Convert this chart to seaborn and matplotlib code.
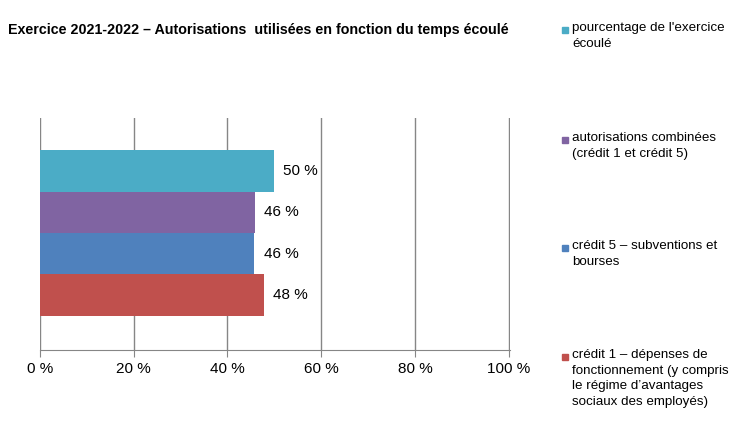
import matplotlib
matplotlib.use("Agg")
import matplotlib.pyplot as plt
import seaborn as sns
import pandas as pd
from matplotlib.patches import Rectangle

plt.rcParams["font.family"] = "Liberation Sans"

series = ["crédit 1 – dépenses de\nfonctionnement (y compris\nle régime d’avantages\nsociaux des employés)",
          "crédit 5 – subventions et\nbourses",
          "autorisations combinées\n(crédit 1 et crédit 5)",
          "pourcentage de l'exercice\nécoulé"]
values = [47.7, 45.7, 45.9, 49.9]
labels = ["48 %", "46 %", "46 %", "50 %"]
colors = ["#c0504d", "#4f81bd", "#8064a2", "#4bacc6"]
ticks = [0, 20, 40, 60, 80, 100]
tick_labels = ["0 %", "20 %", "40 %", "60 %", "80 %", "100 %"]

df = pd.DataFrame({"s": series, "v": values, "pos": [0, 1, 2, 3]})

fig = plt.figure(figsize=(7.5, 4.34), dpi=100)
ax = fig.add_axes([40/750, 84/434, 470/750, 232/434])
for i, row in df.iterrows():
    ax.barh(row["pos"], row["v"], height=1.0, color=colors[i], edgecolor="none")
    ax.text(row["v"] + 2, row["pos"], labels[i], va="center", ha="left", fontsize=11)
ax.set_xlim(0, 100.3)
ax.set_ylim(-0.5 - 0.83, 3.5 + 0.78)
ax.set_xticks(ticks)
ax.set_xticklabels(tick_labels, fontsize=11)
ax.set_yticks([])
ax.xaxis.grid(True, color="#868686", lw=1)
ax.set_axisbelow(True)
for s in ["top", "right", "left"]:
    ax.spines[s].set_visible(False)
ax.spines["bottom"].set_color("#868686")
ax.tick_params(axis="x", length=5, color="#868686")

fig.text(8/750, 1 - 30/434, "Exercice 2021-2022 – Autorisations  utilisées en fonction du temps écoulé",
         fontsize=10.3, fontweight="bold", va="center")

ys = [357, 248, 140, 30]
for i in range(4):
    y = 1 - ys[i]/434
    fig.patches.append(Rectangle((562/750, y - 3/434), 6/750, 6/434, color=colors[i],
                                 transform=fig.transFigure, figure=fig))
    fig.text(572/750, y + 8/434, series[i], fontsize=9.6, va="top", ha="left",
             transform=fig.transFigure, linespacing=1.4)

fig.savefig("out.png", dpi=100)
